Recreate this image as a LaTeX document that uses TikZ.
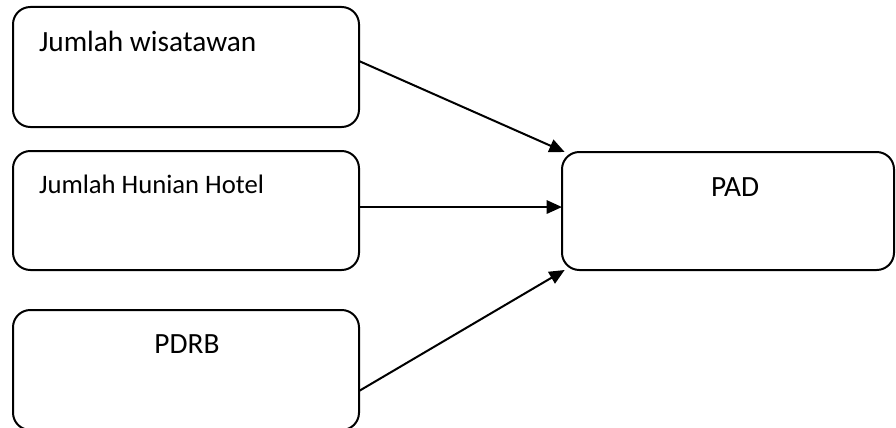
\documentclass[tikz,border=0pt]{standalone}
\usepackage{fontspec}
\setmainfont{Carlito}
\usetikzlibrary{arrows.meta}
\begin{document}
\begin{tikzpicture}[x=0.75pt,y=-0.75pt,
  box/.style={draw=black,line width=1.5pt,rounded corners=13pt,inner sep=0pt,outer sep=0pt},
  lbl/.style={inner sep=0pt,outer sep=0pt,font=\fontsize{22pt}{26pt}\selectfont},
  conn/.style={line width=1.5pt,-{Triangle[length=11.5pt,width=10pt]}}]
\useasboundingbox (0,0) rectangle (896,428);
\node[box,minimum width=259.5pt,minimum height=90pt] (w) at (186,67) {};
\node[box,minimum width=259.5pt,minimum height=89.25pt] (h) at (186,210.5) {};
\node[box,minimum width=259.5pt,minimum height=90pt] (p) at (186,370) {};
\node[box,minimum width=249pt,minimum height=88.5pt] (pad) at (728,211) {};
\node[lbl,anchor=base west] (tw) at (39,52) {Jumlah wisatawan};
\node[lbl,anchor=base west,font=\fontsize{20pt}{24pt}\selectfont] (th) at (39,193) {Jumlah Hunian Hotel};
\node[lbl,anchor=base] (tp) at (187,353) {PDRB};
\node[lbl,anchor=base] (tpad) at (735,196) {PAD};
\draw[conn] ([yshift=4.5pt]w.east) -- ([xshift=2pt]pad.north west);
\draw[conn] ([yshift=2.6pt]h.east) -- ([yshift=2.6pt]h.east -| pad.west);
\draw[conn] ([yshift=-15.75pt]p.east) -- ([xshift=2pt]pad.south west);
\end{tikzpicture}
\end{document}
